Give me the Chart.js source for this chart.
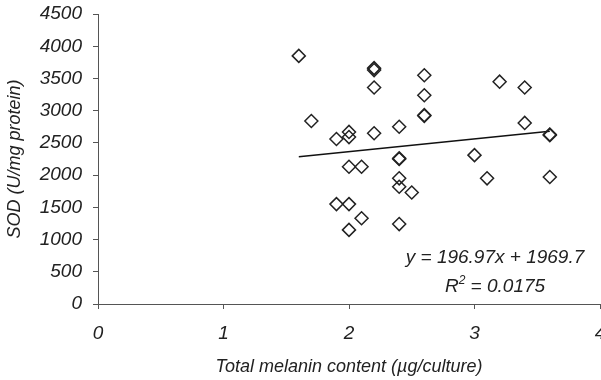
<!DOCTYPE html>
<html>
<head>
<meta charset="utf-8">
<script src="https://cdn.jsdelivr.net/npm/chart.js@4.4.1/dist/chart.umd.min.js"></script>
<style>
  html, body { margin: 0; padding: 0; background: #fff; overflow: hidden; }
</style>
</head>
<body>
<canvas id="chart" width="601" height="380"></canvas>
<script>
// melanin (x) vs SOD (y)
const melanin = [1.6, 2.2, 2.2, 2.6, 2.2, 2.6, 2.6, 2.6, 1.7, 1.9, 2.0, 2.0, 2.2, 2.4, 2.4, 2.4, 2.0, 2.1, 2.4, 2.4, 2.5, 1.9, 2.0, 2.1, 2.0, 2.4, 3.2, 3.4, 3.4, 3.6, 3.6, 3.0, 3.1, 3.6];
const sod = [3850, 3660, 3630, 3550, 3360, 3240, 2930, 2920, 2840, 2560, 2670, 2590, 2650, 2750, 2260, 2250, 2130, 2130, 1950, 1820, 1730, 1550, 1550, 1330, 1150, 1240, 3450, 3360, 2810, 2630, 2620, 2310, 1950, 1970];
const xTicks = [0, 1, 2, 3, 4];
const yTicks = [0, 500, 1000, 1500, 2000, 2500, 3000, 3500, 4000, 4500];

// linear trendline
const slope = 196.97;
const intercept = 1969.7;
const trendX = [1.6, 3.6];

const FONT = "'Liberation Sans Narrow', 'Liberation Sans', Arial, sans-serif";
const ink = '#222';
const axisColor = '#555';
const tickFont = { family: FONT, size: 19, style: 'italic', weight: 'normal', lineHeight: 1.2 };

const points = melanin.map((x, i) => ({ x: x, y: sod[i] }));
const trend = trendX.map(x => ({ x: x, y: slope * x + intercept }));

const labels = {
  id: 'labels',
  afterDraw(chart) {
    const ctx = chart.ctx;
    const cx = 495;
    ctx.save();
    ctx.fillStyle = ink;
    ctx.textBaseline = 'alphabetic';
    ctx.font = 'italic 19px ' + FONT;
    ctx.textAlign = 'center';
    ctx.fillText('y = 196.97x + 1969.7', cx, 263);
    // R² line, centred under the equation
    ctx.textAlign = 'left';
    const rest = ' = 0.0175';
    const wR = ctx.measureText('R').width;
    const wRest = ctx.measureText(rest).width;
    ctx.font = 'italic 12px ' + FONT;
    const w2 = ctx.measureText('2').width;
    let x = cx - (wR + w2 + wRest) / 2;
    ctx.font = 'italic 19px ' + FONT;
    ctx.fillText('R', x, 292);
    ctx.font = 'italic 12px ' + FONT;
    ctx.fillText('2', x + wR, 284);
    ctx.font = 'italic 19px ' + FONT;
    ctx.fillText(rest, x + wR + w2, 292);
    ctx.restore();
  }
};

new Chart(document.getElementById('chart'), {
  type: 'scatter',
  data: {
    datasets: [{
      data: points,
      pointStyle: 'rectRot',
      pointRadius: 6.5,
      pointHoverRadius: 6.5,
      borderColor: ink,
      borderWidth: 1.5,
      backgroundColor: 'rgba(255,255,255,0)'
    }, {
      type: 'line',
      data: trend,
      borderColor: '#111',
      borderWidth: 1.5,
      pointRadius: 0,
      fill: false
    }]
  },
  options: {
    responsive: false,
    animation: false,
    devicePixelRatio: 1,
    layout: { autoPadding: false, padding: { top: 14, right: 1, left: 0, bottom: 0 } },
    plugins: { legend: { display: false }, tooltip: { enabled: false } },
    scales: {
      x: {
        type: 'linear',
        min: 0,
        max: 4,
        afterBuildTicks: s => { s.ticks = xTicks.map(v => ({ value: v })); },
        afterFit: s => { s.paddingLeft = 0; s.paddingRight = 0; s.height = 76; },
        ticks: { color: ink, font: tickFont, padding: 13, callback: v => String(v) },
        grid: { drawOnChartArea: false, drawTicks: true, tickLength: 5, color: axisColor },
        border: { color: axisColor, width: 1 },
        title: {
          display: true,
          text: 'Total melanin content (µg/culture)',
          color: ink,
          font: { family: FONT, size: 18, style: 'italic' },
          padding: { top: 0, bottom: 2 }
        }
      },
      y: {
        min: 0,
        max: 4500,
        afterBuildTicks: s => { s.ticks = yTicks.map(v => ({ value: v })); },
        afterFit: s => { s.width = 98; s.paddingTop = 0; s.paddingBottom = 0; },
        ticks: { color: ink, font: tickFont, padding: 11, callback: v => String(v) },
        grid: { drawOnChartArea: false, drawTicks: true, tickLength: 5, color: axisColor },
        border: { color: axisColor, width: 1 },
        title: {
          display: true,
          text: 'SOD (U/mg protein)',
          color: ink,
          font: { family: FONT, size: 18, style: 'italic' },
          padding: { top: 4, bottom: 0 }
        }
      }
    }
  },
  plugins: [labels]
});
</script>
</body>
</html>
